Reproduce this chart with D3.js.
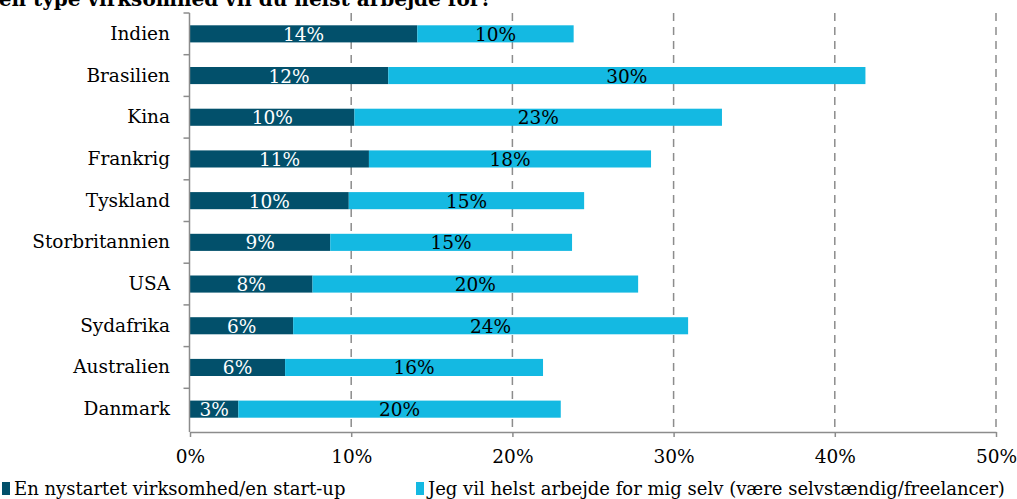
<!DOCTYPE html>
<html><head><meta charset="utf-8">
<script src="https://cdn.jsdelivr.net/npm/d3@7"></script>
<style>body{margin:0;background:#fff}svg{display:block}</style>
</head><body>
<svg id="c" width="1017" height="499"></svg>
<script>
const categories = ["Indien","Brasilien","Kina","Frankrig","Tyskland","Storbritannien","USA","Sydafrika","Australien","Danmark"];
const startup = [14.1,12.3,10.2,11.1,9.85,8.7,7.6,6.4,5.9,3.0];
const selv = [9.7,29.6,22.8,17.5,14.6,15.0,20.2,24.5,16.0,20.0];
const startupLabels = ["14%","12%","10%","11%","10%","9%","8%","6%","6%","3%"];
const selvLabels = ["10%","30%","23%","18%","15%","15%","20%","24%","16%","20%"];
const xTicks = [0,10,20,30,40,50];
const seriesNames = ["En nystartet virksomhed/en start-up","Jeg vil helst arbejde for mig selv (være selvstændig/freelancer)"];
const colors = ["#02506b","#14b9e2"];
const font = "DejaVu Serif";

const svg = d3.select("#c");
const x = d3.scaleLinear().domain([0,50]).range([190,996]);
const y = d3.scaleBand().domain(categories).range([13,430]).paddingInner(0.59).paddingOuter(0.295);

svg.append("text").attr("x",492).attr("y",6).attr("text-anchor","end")
  .attr("font-family",font).attr("font-weight","bold").attr("font-size",20)
  .text("Hvilken type virksomhed vil du helst arbejde for?");

// gridlines
svg.append("g").selectAll("line").data(xTicks.slice(1)).join("line")
  .attr("x1",d=>x(d)).attr("x2",d=>x(d)).attr("y1",13).attr("y2",432)
  .attr("stroke","#8c8c8c").attr("stroke-width",1.5).attr("stroke-dasharray","8,6");

// bars
const rows = svg.append("g").selectAll("g").data(categories).join("g");
rows.append("rect").attr("x",x(0)).attr("y",d=>y(d)).attr("height",y.bandwidth())
  .attr("width",(d,i)=>x(startup[i])-x(0)).attr("fill",colors[0]);
rows.append("rect").attr("x",(d,i)=>x(startup[i])).attr("y",d=>y(d)).attr("height",y.bandwidth())
  .attr("width",(d,i)=>x(startup[i]+selv[i])-x(startup[i])).attr("fill",colors[1]);
rows.append("text").attr("x",(d,i)=>x(startup[i]/2)).attr("y",d=>y(d)+y.bandwidth()/2+7)
  .attr("text-anchor","middle").attr("font-family",font).attr("font-size",18.5).attr("fill","#fff")
  .text((d,i)=>startupLabels[i]);
rows.append("text").attr("x",(d,i)=>x(startup[i]+selv[i]/2)).attr("y",d=>y(d)+y.bandwidth()/2+7)
  .attr("text-anchor","middle").attr("font-family",font).attr("font-size",18.5).attr("fill","#000")
  .text((d,i)=>selvLabels[i]);

// x axis
const xa = svg.append("g").attr("transform","translate(0,432)")
  .call(d3.axisBottom(x).tickValues(xTicks).tickFormat(d=>d+"%").tickSize(5).tickSizeOuter(0));
xa.select(".domain").attr("stroke","#8c8c8c").attr("stroke-width",1.5);
xa.selectAll(".tick line").attr("stroke","#8c8c8c").attr("stroke-width",1.5);
xa.selectAll("text").attr("font-family",font).attr("font-size",18.5).attr("fill","#000").attr("dy",0).attr("y",31);

// y axis
const ya = svg.append("g").attr("transform","translate(189.5,0)");
ya.append("line").attr("x1",0).attr("x2",0).attr("y1",13).attr("y2",432).attr("stroke","#8c8c8c").attr("stroke-width",1.5);
const bounds = d3.range(categories.length+1).map(i=>13+i*(417/categories.length));
ya.selectAll(".yt").data(bounds.slice(0,-1)).join("line").attr("class","yt")
  .attr("x1",-6).attr("x2",0).attr("y1",d=>d).attr("y2",d=>d).attr("stroke","#8c8c8c").attr("stroke-width",1.5);
svg.append("g").selectAll("text").data(categories).join("text")
  .attr("x",170).attr("y",d=>y(d)+y.bandwidth()/2+6).attr("text-anchor","end")
  .attr("font-family",font).attr("font-size",18.5).attr("fill","#000").text(d=>d);

// legend
const lx = [2,416];
const lg = svg.append("g").selectAll("g").data(seriesNames).join("g");
lg.append("rect").attr("x",(d,i)=>lx[i]).attr("y",482).attr("width",8).attr("height",13).attr("fill",(d,i)=>colors[i]);
lg.append("text").attr("x",(d,i)=>lx[i]+12).attr("y",495).attr("font-family",font).attr("font-size",18).attr("fill","#000").text(d=>d);
</script>
</body></html>
